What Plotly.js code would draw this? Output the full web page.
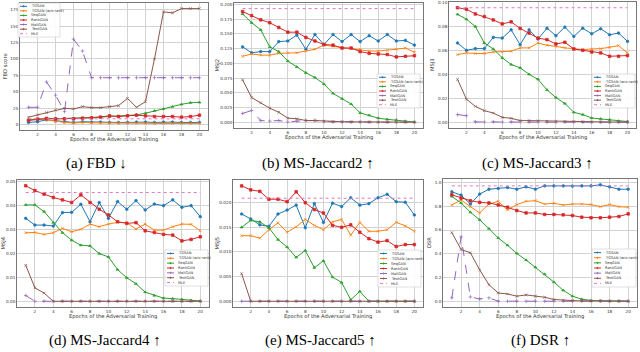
<!DOCTYPE html>
<html>
<head>
<meta charset="utf-8">
<script src="https://cdn.plot.ly/plotly-3.0.1.min.js"></script>
<style>
  html, body { margin: 0; padding: 0; background: #fff; }
  #chart { width: 640px; height: 352px; }
</style>
</head>
<body>
<div id="chart"></div>
<script>
// epochs of adversarial training
var epochs = [1, 2, 3, 4, 5, 6, 7, 8, 9, 10, 11, 12, 13, 14, 15, 16, 17, 18, 19, 20];
var methods = ['TGSAN', 'TGSAN (w/o rank)', 'SeqGAN', 'RankGAN', 'MaliGAN', 'TextGAN', 'MLE'];

// (a) FBD
var fbdBlue   = [3.5, 4.5, 7.5, 6, 4.5, 3.5, 4.5, 4, 4, 3.5, 3.5, 3.5, 4, 4, 3.5, 4, 4, 3.5, 3.5, 3.5];
var fbdOrange = [7.5, 8.5, 7.5, 5, 3.5, 2.5, 3.5, 3, 2.5, 2.5, 2.5, 2.5, 2, 2, 2, 2, 2, 2, 2, 2];
var fbdGreen  = [7.5, 8.5, 10, 9, 9.5, 9, 10, 10.5, 11.5, 12.5, 13, 14, 15, 17.5, 21, 24, 27.5, 31, 33.5, 34];
var fbdRed    = [6.5, 8.5, 9.5, 9, 9, 9, 10, 10.5, 11.5, 13.5, 12.5, 13.5, 14.5, 13.5, 12.5, 12.5, 12.5, 11.5, 12.5, 14.5];
var fbdPurple = [26.5, 26.5, 65, 45, 20, 130, 112, 71.5, 71.5, 71.5, 71.5, 71.5, 71.5, 71.5, 71.5, 71.5, 71.5, 71.5, 71.5, 71.5];
var fbdBrown  = [11.5, 15, 18.5, 22.5, 25, 24, 27.5, 26, 26, 27.5, 29, 40, 26.5, 35, 100, 171.5, 170, 176.5, 176.5, 176.5];
var fbdMLE = 9;

// (b) MS-Jaccard2
var msj2Blue   = [0.128, 0.118, 0.120, 0.120, 0.137, 0.138, 0.148, 0.124, 0.149, 0.132, 0.149, 0.137, 0.149, 0.137, 0.147, 0.138, 0.149, 0.138, 0.139, 0.131];
var msj2Orange = [0.112, 0.116, 0.114, 0.114, 0.117, 0.118, 0.118, 0.121, 0.124, 0.131, 0.129, 0.127, 0.126, 0.124, 0.121, 0.121, 0.122, 0.124, 0.126, 0.119];
var msj2Green  = [0.184, 0.169, 0.157, 0.128, 0.120, 0.104, 0.094, 0.084, 0.076, 0.065, 0.049, 0.040, 0.031, 0.016, 0.012, 0.007, 0.005, 0.004, 0.002, 0.0005];
var msj2Red    = [0.188, 0.181, 0.174, 0.169, 0.161, 0.153, 0.153, 0.144, 0.138, 0.132, 0.131, 0.126, 0.126, 0.120, 0.117, 0.116, 0.115, 0.111, 0.112, 0.113];
var msj2Purple = [0.015, 0.020, 0.003, 0.002, 0.003, 0.0005, 0.002, 0.003, 0.003, 0.001, 0.0005, 0.0004, 0.0003, 0.0003, 0.0002, 0.0002, 0.0002, 0.0001, 0.0001, 0.0001];
var msj2Brown  = [0.072, 0.042, 0.033, 0.024, 0.017, 0.007, 0.006, 0.003, 0.003, 0.002, 0.001, 0.001, 0.0008, 0.0006, 0.0005, 0.0004, 0.0003, 0.0003, 0.0002, 0.0002];
var msj2MLE = 0.193;

// (c) MS-Jaccard3
var msj3Blue   = [0.0663, 0.0602, 0.0616, 0.0616, 0.0710, 0.0704, 0.0773, 0.0649, 0.0773, 0.0696, 0.0787, 0.0724, 0.0796, 0.0718, 0.0787, 0.0740, 0.0782, 0.0732, 0.0746, 0.0677];
var msj3Orange = [0.0566, 0.0580, 0.0575, 0.0575, 0.0588, 0.0588, 0.0594, 0.0622, 0.0622, 0.0663, 0.0644, 0.0635, 0.0622, 0.0616, 0.0608, 0.0613, 0.0616, 0.0627, 0.0641, 0.0580];
var msj3Green  = [0.0903, 0.0862, 0.0801, 0.0663, 0.0613, 0.0539, 0.0483, 0.0456, 0.0401, 0.0359, 0.0271, 0.0207, 0.0157, 0.0083, 0.0064, 0.0036, 0.0028, 0.0022, 0.0011, 0.0006];
var msj3Red    = [0.0958, 0.0945, 0.0906, 0.0884, 0.0856, 0.0823, 0.0840, 0.0785, 0.0746, 0.0704, 0.0691, 0.0655, 0.0669, 0.0613, 0.0602, 0.0588, 0.0580, 0.0552, 0.0552, 0.0558];
var msj3Purple = [0.0064, 0.0055, 0.0003, 0.0002, 0.0005, 0.0002, 0.0003, 0.0002, 0.0002, 0.0002, 0.0001, 0.0001, 0.0001, 0.0001, 0.0001, 0.0001, 0.0001, 0.0001, 0.0001, 0.0001];
var msj3Brown  = [0.0359, 0.0193, 0.0133, 0.0097, 0.0077, 0.0041, 0.0033, 0.0014, 0.0014, 0.0012, 0.0009, 0.0007, 0.0006, 0.0005, 0.0004, 0.0003, 0.0003, 0.0002, 0.0002, 0.0002];
var msj3MLE = 0.0958;

// (d) MS-Jaccard4
var msj4Blue   = [0.0346, 0.0318, 0.0318, 0.0314, 0.0370, 0.0371, 0.0405, 0.0332, 0.0412, 0.0346, 0.0416, 0.0384, 0.0420, 0.0381, 0.0406, 0.0399, 0.0423, 0.0392, 0.0399, 0.0353];
var msj4Orange = [0.0286, 0.0287, 0.0279, 0.0286, 0.0304, 0.0290, 0.0300, 0.0322, 0.0311, 0.0322, 0.0329, 0.0328, 0.0301, 0.0322, 0.0297, 0.0297, 0.0311, 0.0322, 0.0321, 0.0294];
var msj4Green  = [0.0402, 0.0402, 0.0374, 0.0328, 0.0286, 0.0255, 0.0234, 0.0231, 0.0199, 0.0185, 0.0132, 0.0098, 0.0073, 0.0038, 0.0024, 0.0013, 0.0011, 0.0008, 0.0004, 0.0001];
var msj4Red    = [0.0482, 0.0462, 0.0447, 0.0433, 0.0423, 0.0412, 0.0444, 0.0412, 0.0384, 0.0360, 0.0332, 0.0325, 0.0328, 0.0294, 0.0287, 0.0279, 0.0276, 0.0252, 0.0258, 0.0269];
var msj4Purple = [0.0024, 0, 0, 0, 0, 0, 0, 0, 0, 0, 0, 0, 0, 0, 0, 0, 0, 0, 0, 0];
var msj4Brown  = [0.0150, 0.0056, 0.0034, 0, 0, 0, 0, 0, 0, 0, 0, 0, 0, 0, 0, 0, 0, 0, 0, 0];
var msj4MLE = 0.0454;

// (e) MS-Jaccard5
var msj5Blue   = [0.0177, 0.0167, 0.0155, 0.0152, 0.0177, 0.0185, 0.0195, 0.0149, 0.0198, 0.0160, 0.0199, 0.0192, 0.0210, 0.0195, 0.0198, 0.0210, 0.0217, 0.0202, 0.0201, 0.0175];
var msj5Orange = [0.0133, 0.0133, 0.0128, 0.0145, 0.0159, 0.0140, 0.0151, 0.0166, 0.0154, 0.0145, 0.0161, 0.0166, 0.0134, 0.0160, 0.0142, 0.0142, 0.0145, 0.0160, 0.0153, 0.0142];
var msj5Green  = [0.0150, 0.0164, 0.0161, 0.0149, 0.0125, 0.0110, 0.0089, 0.0103, 0.0068, 0.0082, 0.0049, 0.0038, 0.0003, 0.0020, 0, 0, 0, 0, 0, 0];
var msj5Red    = [0.0234, 0.0226, 0.0223, 0.0207, 0.0207, 0.0202, 0.0222, 0.0200, 0.0186, 0.0179, 0.0154, 0.0150, 0.0155, 0.0140, 0.0127, 0.0120, 0.0123, 0.0111, 0.0115, 0.0115];
var msj5Purple = [0, 0, 0, 0, 0, 0, 0, 0, 0, 0, 0, 0, 0, 0, 0, 0, 0, 0, 0, 0];
var msj5Brown  = [0.0056, 0, 0, 0, 0, 0, 0, 0, 0, 0, 0, 0, 0, 0, 0, 0, 0, 0, 0, 0];
var msj5MLE = 0.0209;

// (f) DSR
var dsrBlue   = [0.922, 0.894, 0.819, 0.903, 0.944, 0.950, 0.958, 0.944, 0.964, 0.944, 0.972, 0.972, 0.972, 0.970, 0.972, 0.972, 0.981, 0.964, 0.944, 0.944];
var dsrOrange = [0.811, 0.853, 0.797, 0.744, 0.819, 0.842, 0.769, 0.814, 0.842, 0.847, 0.819, 0.825, 0.811, 0.819, 0.819, 0.814, 0.797, 0.814, 0.797, 0.792];
var dsrGreen  = [0.883, 0.828, 0.750, 0.686, 0.611, 0.533, 0.472, 0.403, 0.347, 0.286, 0.228, 0.161, 0.092, 0.042, 0.017, 0.006, 0.003, 0.001, 0, 0];
var dsrRed    = [0.897, 0.869, 0.847, 0.833, 0.828, 0.811, 0.792, 0.764, 0.744, 0.744, 0.731, 0.731, 0.728, 0.722, 0.708, 0.703, 0.703, 0.708, 0.714, 0.736];
var dsrPurple = [0.028, 0.542, 0.036, 0.019, 0.028, 0, 0, 0, 0, 0, 0, 0, 0, 0, 0, 0, 0, 0, 0, 0];
var dsrBrown  = [0.578, 0.436, 0.408, 0.264, 0.139, 0.069, 0.061, 0.042, 0.053, 0.042, 0.033, 0.014, 0.008, 0.005, 0.003, 0.002, 0.002, 0.001, 0.001, 0.001];
var dsrMLE = 0.972;

var colors = ['#1f77b4', '#ff7f0e', '#2ca02c', '#d62728', '#9467bd', '#8c564b', '#e377c2'];
var symbols = ['circle', 'x-thin-open', 'triangle-up', 'square', 'cross-thin-open', 'x-thin-open'];
var dashes = ['solid', 'solid', 'solid', 'solid', 'dash', 'solid'];

// pixel boxes: [left, right, top, bottom]; ytx = x of the y title
var panels = [
  {series: [fbdBlue, fbdOrange, fbdGreen, fbdRed, fbdPurple, fbdBrown], mle: fbdMLE,
   box: [20, 208, 3, 130], yrange: [-8, 185], dtick: 25, fmt: 'd', ytitle: 'FBD score', ytx: 4,
   caption: '(a) FBD ↓', cap: [96, 163], leg: [18, 60, 3, 37]},
  {series: [msj2Blue, msj2Orange, msj2Green, msj2Red, msj2Purple, msj2Brown], mle: msj2MLE,
   box: [234, 423, 3, 128], yrange: [-0.0097, 0.2025], dtick: 0.025, fmt: '.3f', ytitle: 'MSJ2', ytx: 217,
   caption: '(b) MS-Jaccard2 ↑', cap: [318, 163], leg: [377, 420, 74, 108]},
  {series: [msj3Blue, msj3Orange, msj3Green, msj3Red, msj3Purple, msj3Brown], mle: msj3MLE,
   box: [449, 636, 2, 128], yrange: [-0.0048, 0.1006], dtick: 0.02, fmt: '.2f', ytitle: 'MSJ3', ytx: 432,
   caption: '(c) MS-Jaccard3 ↑', cap: [537, 163], leg: [592, 635, 74, 108]},
  {series: [msj4Blue, msj4Orange, msj4Green, msj4Red, msj4Purple, msj4Brown], mle: msj4MLE,
   box: [17, 209, 180, 307], yrange: [-0.0024, 0.0506], dtick: 0.01, fmt: '.2f', ytitle: 'MSJ4', ytx: 3,
   caption: '(d) MS-Jaccard4 ↑', cap: [105, 340], leg: [165, 208, 250, 286]},
  {series: [msj5Blue, msj5Orange, msj5Green, msj5Red, msj5Purple, msj5Brown], mle: msj5MLE,
   box: [233, 423, 180, 307], yrange: [-0.00117, 0.0246], dtick: 0.005, fmt: '.3f', ytitle: 'MSJ5', ytx: 217,
   caption: '(e) MS-Jaccard5 ↑', cap: [320, 340], leg: [378, 421, 250, 287]},
  {series: [dsrBlue, dsrOrange, dsrGreen, dsrRed, dsrPurple, dsrBrown], mle: dsrMLE,
   box: [443, 637, 179, 307], yrange: [-0.049, 1.03], dtick: 0.2, fmt: '.1f', ytitle: 'DSR', ytx: 429,
   caption: '(f) DSR ↑', cap: [540, 340], leg: [592, 636, 249, 287]}
];

var W = 640, H = 352;
function X(px) { return px / W; }
function Y(py) { return 1 - py / H; }

var traces = [];
var layout = {
  width: W, height: H,
  margin: {l: 0, r: 0, t: 0, b: 0},
  paper_bgcolor: '#ffffff',
  plot_bgcolor: '#ffffff',
  showlegend: false,
  font: {family: 'DejaVu Sans', color: '#333'},
  shapes: [],
  annotations: []
};

panels.forEach(function (p, i) {
  var s = i === 0 ? '' : String(i + 1);
  p.series.forEach(function (vals, j) {
    traces.push({
      x: epochs, y: vals, xaxis: 'x' + s, yaxis: 'y' + s,
      type: 'scatter', mode: 'lines+markers', name: methods[j],
      line: {color: colors[j], width: 1, dash: dashes[j]},
      marker: {color: colors[j], size: 2.6, symbol: symbols[j], line: {color: colors[j], width: 0.7}}
    });
  });
  traces.push({
    x: [epochs[0], epochs[epochs.length - 1]], y: [p.mle, p.mle],
    xaxis: 'x' + s, yaxis: 'y' + s, type: 'scatter', mode: 'lines', name: methods[6],
    line: {color: colors[6], width: 1, dash: 'dot'}
  });

  var axCommon = {
    showgrid: true, gridcolor: '#d3d3d3', gridwidth: 1,
    showline: true, mirror: true, linecolor: '#555', linewidth: 0.8,
    zeroline: false, ticks: '', tickfont: {size: 4.2, color: '#333'}
  };
  layout['xaxis' + s] = Object.assign({}, axCommon, {
    domain: [X(p.box[0]), X(p.box[1])], anchor: 'y' + s,
    range: [0.05, 20.95], tick0: 0, dtick: 2
  });
  layout['yaxis' + s] = Object.assign({}, axCommon, {
    domain: [Y(p.box[3]), Y(p.box[2])], anchor: 'x' + s,
    range: p.yrange, tick0: 0, dtick: p.dtick, tickformat: p.fmt
  });

  // axis titles
  layout.annotations.push({
    xref: 'paper', yref: 'paper', x: X((p.box[0] + p.box[1]) / 2), y: Y(p.box[3] + 9),
    text: 'Epochs of the Adversarial Training', showarrow: false,
    font: {size: 5.2, color: '#333'}, xanchor: 'center', yanchor: 'middle'
  });
  layout.annotations.push({
    xref: 'paper', yref: 'paper', x: X(p.ytx), y: Y((p.box[2] + p.box[3]) / 2),
    text: p.ytitle, showarrow: false, textangle: -90,
    font: {size: 5.2, color: '#333'}, xanchor: 'center', yanchor: 'middle'
  });
  // caption
  layout.annotations.push({
    xref: 'paper', yref: 'paper', x: X(p.cap[0]), y: Y(p.cap[1]),
    text: p.caption, showarrow: false,
    font: {family: 'Liberation Serif', size: 15, color: '#000'},
    xanchor: 'center', yanchor: 'middle'
  });

  // legend box
  var lg = p.leg;
  layout.shapes.push({
    type: 'rect', xref: 'paper', yref: 'paper', layer: 'above',
    x0: X(lg[0]), x1: X(lg[1]), y0: Y(lg[3]), y1: Y(lg[2]),
    line: {color: '#cccccc', width: 0.6}, fillcolor: 'rgba(255,255,255,0.9)'
  });
  var rowH = (lg[3] - lg[2] - 2) / 7;
  for (var k = 0; k < 7; k++) {
    var cy = lg[2] + 1 + rowH * (k + 0.5);
    layout.shapes.push({
      type: 'line', xref: 'paper', yref: 'paper', layer: 'above',
      x0: X(lg[0] + 2), x1: X(lg[0] + 9), y0: Y(cy), y1: Y(cy),
      line: {color: colors[k], width: 1, dash: k === 6 ? 'dot' : 'solid'}
    });
    if (k < 6) {
      layout.shapes.push({
        type: 'circle', xref: 'paper', yref: 'paper', layer: 'above',
        x0: X(lg[0] + 4.8), x1: X(lg[0] + 6.2), y0: Y(cy + 0.7), y1: Y(cy - 0.7),
        line: {color: colors[k], width: 0.5}, fillcolor: colors[k]
      });
    }
    layout.annotations.push({
      xref: 'paper', yref: 'paper', x: X(lg[0] + 10.5), y: Y(cy),
      text: methods[k], showarrow: false, xanchor: 'left', yanchor: 'middle',
      font: {size: 3.6, color: '#333'}
    });
  }
});

Plotly.newPlot('chart', traces, layout, {staticPlot: true, displayModeBar: false});
</script>
</body>
</html>
